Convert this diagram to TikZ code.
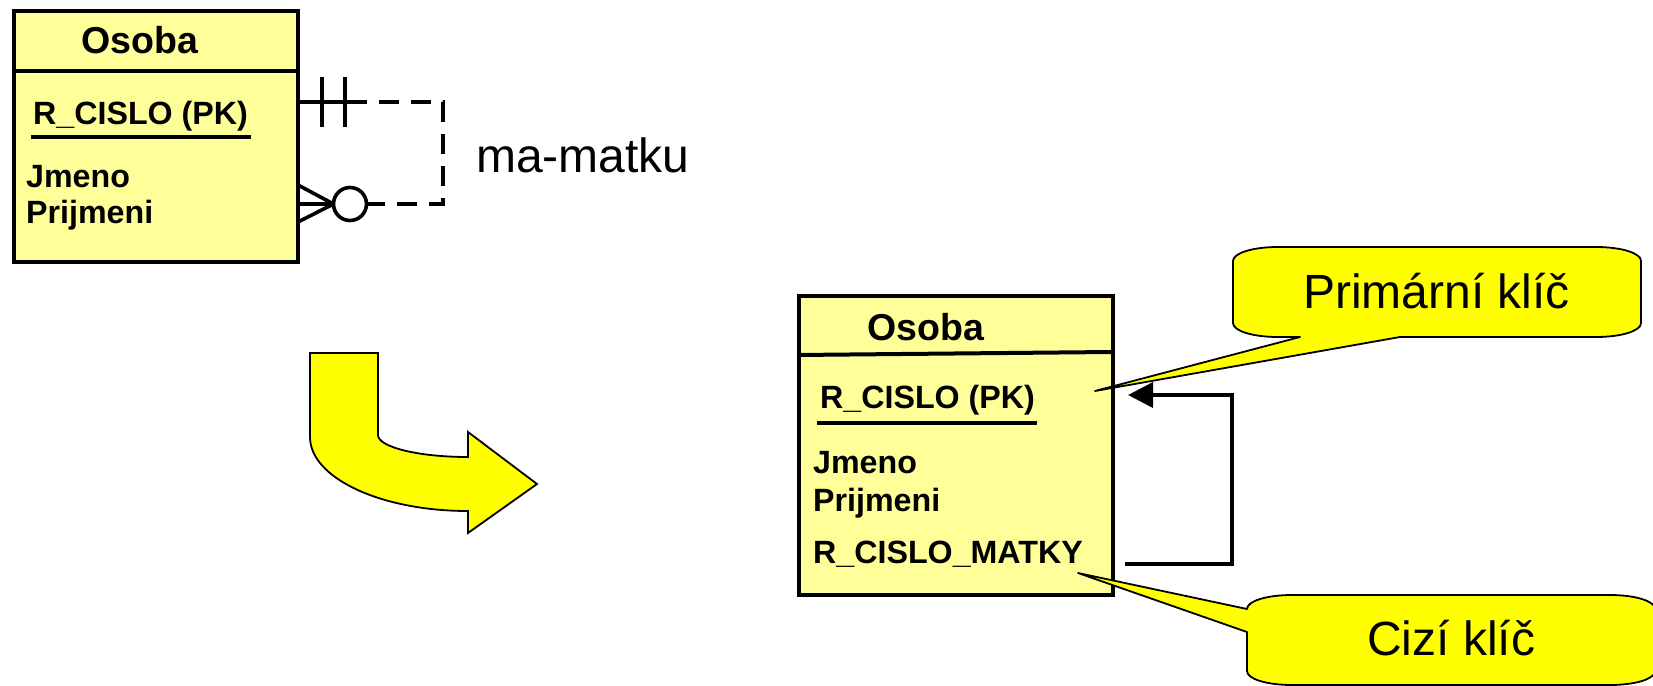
\documentclass[tikz,border=0pt]{standalone}
\usepackage{fontspec}
\setmainfont{Liberation Sans}
\usetikzlibrary{arrows.meta}
\definecolor{boxfill}{RGB}{255,255,153}
\definecolor{callfill}{RGB}{255,255,0}
\begin{document}
\begin{tikzpicture}[x=1pt,y=-1pt,
  ebox/.style={draw=black,fill=boxfill,line width=4pt,inner sep=0pt,anchor=north west},
  title/.style={font=\fontsize{37.5}{45}\selectfont\bfseries,inner sep=0pt,anchor=base west},
  attr/.style={font=\fontsize{32.2}{38}\selectfont\bfseries,inner sep=0pt,anchor=base west},
  big/.style={font=\fontsize{48}{57}\selectfont,inner sep=0pt,anchor=base west},
  rel/.style={line width=3.6pt},
  reldash/.style={line width=3.6pt,dash pattern=on 20pt off 12pt},
  calloutshape/.style={draw=black,fill=callfill,line width=1.8pt,line join=round},
  link/.style={line width=3.6pt,line join=miter}
]
\useasboundingbox (0,0) rectangle (1653,685);
\fill[white] (0,0) rectangle (1653,685);

% ---------- left entity ----------
\node[ebox,minimum width=284pt,minimum height=251pt] (L) at (12,9) {};
\draw[line width=4pt] (12,71) -- (296,71);
\node[title] (Lt) at (81,54) {Osoba};
\node[attr] (Lpk) at (33,124) {R\_CISLO (PK)};
\draw[line width=4.2pt] (31,137) -- (251,137);
\node[attr] (Lj) at (26,187) {Jmeno};
\node[attr] (Lp) at (26,223) {Prijmeni};

% ---------- self relationship ----------
\coordinate (a1) at (298,102);
\coordinate (a2) at (347,102);
\coordinate (c1) at (443,102);
\coordinate (c2) at (443,204);
\coordinate (o) at (350,204);
\coordinate (oR) at (366.5,204);
\coordinate (f) at (333.5,204);
\draw[reldash] (a2) -- (c1) -- (c2) -- (oR);
\draw[rel] (a1) -- (a2);
\draw[rel] (322,77) -- (322,127);
\draw[rel] (345,77) -- (345,127);
\draw[rel] (o) circle[radius=16.5];
\draw[rel] (298,185) -- (f);
\draw[rel] (298,204) -- (f);
\draw[rel] (298,222) -- (f);
\node[big] (rl) at (476,172) {ma-matku};

% ---------- bent arrow ----------
\draw[fill=callfill,line width=1.8pt,line join=miter]
  (310,353) -- (378,353) -- (378,435)
  .. controls (378,447) and (418,457) .. (468,457)
  -- (468,432) -- (537,484) -- (468,533) -- (468,511)
  .. controls (381,511) and (310,478) .. (310,437) -- cycle;

% ---------- right entity ----------
\node[ebox,minimum width=314pt,minimum height=299pt] (R) at (797,294) {};
\draw[line width=4pt] (797,355) -- (1111,352);
\node[title] (Rt) at (867,340) {Osoba};
\node[attr] (Rpk) at (820,408) {R\_CISLO (PK)};
\draw[line width=4.2pt] (817,423) -- (1037,423);
\node[attr] (Rj) at (813,473) {Jmeno};
\node[attr] (Rp) at (813,511) {Prijmeni};
\node[attr] (Rfk) at (813,563) {R\_CISLO\_MATKY};

% foreign key link
\coordinate (k1) at (1125,564);
\coordinate (k2) at (1232,564);
\coordinate (k3) at (1232,395);
\coordinate (k4) at (1128,395);
\draw[link,-{Triangle[length=25pt,width=25pt]}] (k1) -- (k2) -- (k3) -- (k4);

% ---------- callout: Primarni klic ----------
\draw[calloutshape]
  (1278,247) -- (1596,247)
  .. controls (1621,247) and (1641,253) .. (1641,261)
  -- (1641,323)
  .. controls (1641,331) and (1621,337) .. (1596,337)
  -- (1400,337) -- (1095,391) -- (1300,337) -- (1278,337)
  .. controls (1253,337) and (1233,331) .. (1233,323)
  -- (1233,261)
  .. controls (1233,253) and (1253,247) .. (1278,247) -- cycle;
\node[big] (pk) at (1303,308) {Primární klíč};

% ---------- callout: Cizi klic ----------
\draw[calloutshape]
  (1292,595) -- (1610,595)
  .. controls (1635,595) and (1655,601) .. (1655,609)
  -- (1655,671)
  .. controls (1655,679) and (1635,685) .. (1610,685)
  -- (1292,685)
  .. controls (1267,685) and (1247,679) .. (1247,671)
  -- (1247,632) -- (1078,573) -- (1247,609)
  .. controls (1247,601) and (1267,595) .. (1292,595) -- cycle;
\node[big] (fk) at (1367,655) {Cizí klíč};
\end{tikzpicture}
\end{document}
